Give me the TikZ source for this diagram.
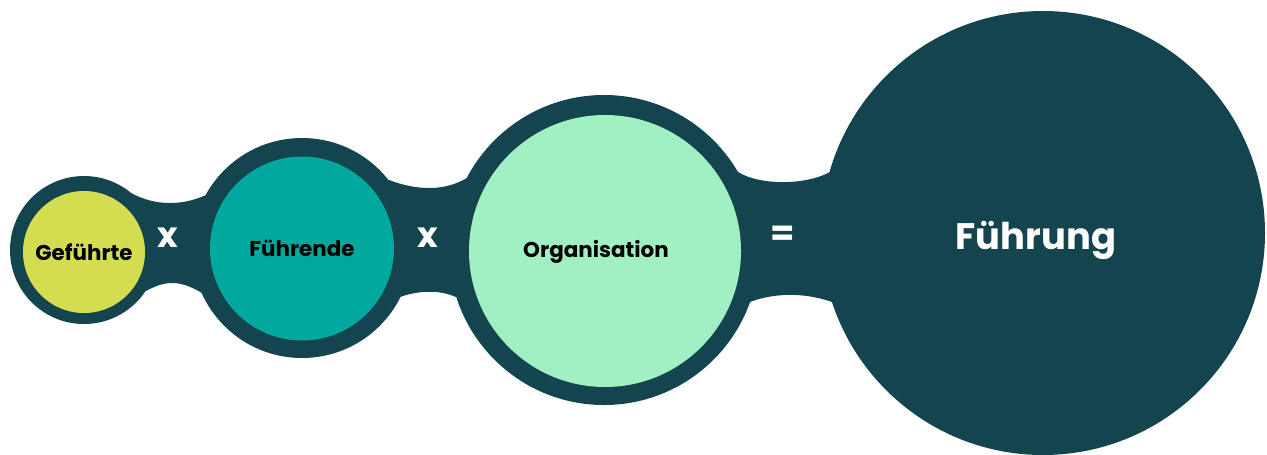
\documentclass[tikz,border=0pt]{standalone}
\usepackage{fontspec}
\setmainfont{Poppins}
\definecolor{dark}{RGB}{20,68,78}
\definecolor{lime}{RGB}{212,220,80}
\definecolor{teal2}{RGB}{0,168,158}
\definecolor{mint}{RGB}{161,240,196}
\tikzset{
  ring/.style={fill=dark, draw=none},
  core/.style={circle, draw=none, inner sep=0pt, text=black, font=\bfseries\fontsize{12.2}{14}\selectfont},
  lbl/.style={inner sep=0pt, text=black, font=\bfseries\fontsize{12.2}{14}\selectfont},
  op/.style={text=white, inner sep=0pt, font=\bfseries\fontsize{20}{22}\selectfont},
  band/.style={fill=dark, draw=none}
}
\begin{document}
\begin{tikzpicture}[x=0.02cm, y=-0.02cm]
\useasboundingbox (0,0) rectangle (1267,454);
\clip (0,0) rectangle (1267,454);
% outer dark circles
\fill[ring] (84,250) circle (74);
\fill[ring] (302,248) circle (110);
\fill[ring] (604,250) circle (155);
\fill[ring] (1043,233) circle (222);
% connecting bands
\fill[band] (131,193) .. controls (155,206) and (182,206) .. (206,195)
  -- (202,293) .. controls (180,280) and (166,280) .. (146,291) -- cycle;
\fill[band] (389,180) .. controls (418,191) and (445,191) .. (467,178)
  -- (456,297) .. controls (440,290) and (420,290) .. (400,297) -- cycle;
\fill[band] (738,172) .. controls (760,185.5) and (805,185.5) .. (830,172)
  -- (832,302) .. controls (805,292.5) and (775,292.5) .. (750,302) -- cycle;
% inner circles
\node[core, fill=lime, minimum size=122*0.02cm] (g) at (84,252) {Geführte};
\node[core, fill=teal2, minimum size=184*0.02cm] (f) at (302,248.5) {Führende};
\node[core, fill=mint, minimum size=272*0.02cm] (o) at (605,251) {};
\node[lbl] (ot) at (596,251.5) {Organisation};
\node[text=white, inner sep=0pt, font=\bfseries\fontsize{21}{24}\selectfont] (r) at (1036,240) {Führung};
% operators
\node[op] (x1) at (168,238) {x};
\node[op] (x2) at (428,238) {x};
\node[op] (eq) at (783,236) {=};
\end{tikzpicture}
\end{document}
